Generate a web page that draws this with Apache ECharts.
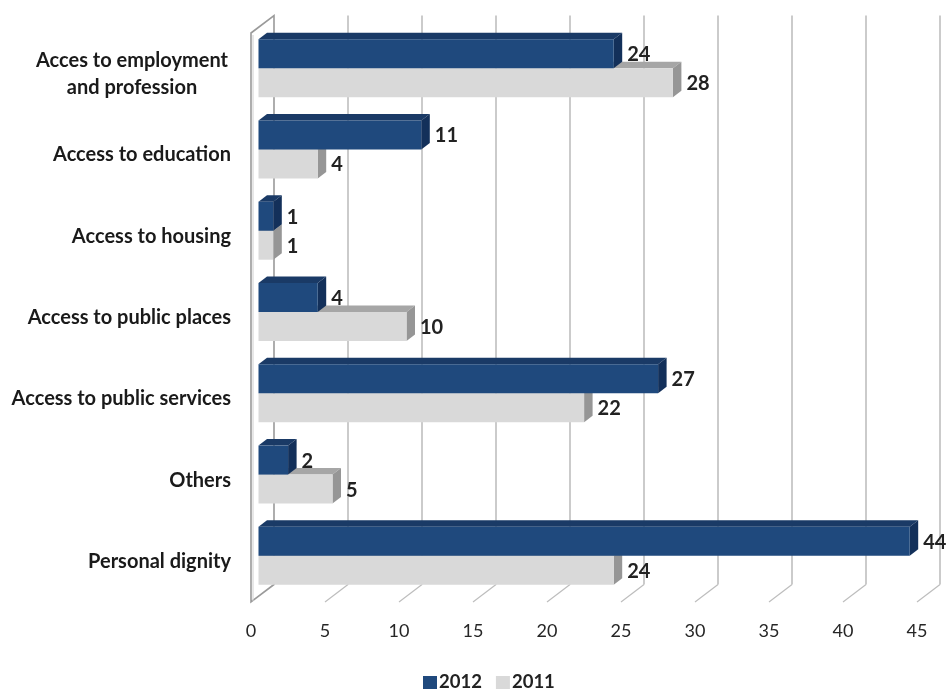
<!DOCTYPE html>
<html>
<head>
<meta charset="utf-8">
<script src="https://cdn.jsdelivr.net/npm/echarts@6/dist/echarts.min.js"></script>
<style>
  html, body { margin: 0; padding: 0; background: #fff; }
  #chart { width: 948px; height: 692px; }
</style>
</head>
<body>
<div id="chart"></div>
<script>
// Complaints by field, 2012 vs 2011
const categories = [
  'Acces to employment\nand profession',
  'Access to education',
  'Access to housing',
  'Access to public places',
  'Access to public services',
  'Others',
  'Personal dignity'
];
const values2012 = [24, 11, 1, 4, 27, 2, 44];
const values2011 = [28, 4, 1, 10, 22, 5, 24];
const xTicks = [0, 5, 10, 15, 20, 25, 30, 35, 40, 45];

// pseudo-3D geometry (pixels)
const WALL_DX = 23, WALL_DY = -17.5;   // depth of the chart box
const BAR_DX0 = 7.5, BAR_DY0 = -5.5;   // bars sit a third of the way into the box
const BAR_DX = 8.5, BAR_DY = -6.5;     // depth of a single bar
const BAR_H = 29;

const FONT = 'Lato, "Open Sans", sans-serif';

const chart = echarts.init(document.getElementById('chart'), null, { renderer: 'canvas' });

function frameItem(params, api) {
  const cs = params.coordSys;
  const top = cs.y, bottom = cs.y + cs.height;
  const fx = api.coord([api.value(0), 0])[0];
  const isWall = api.value(0) === 0;
  const children = [];
  const grid = { stroke: '#cbcbcb', lineWidth: 2 };
  const floor = { stroke: '#bdbdbd', lineWidth: 1.2 };
  if (isWall) {
    // left wall: a thin panel
    children.push({
      type: 'polygon',
      shape: { points: [[fx, top], [fx + WALL_DX, top + WALL_DY], [fx + WALL_DX, bottom + WALL_DY], [fx, bottom]] },
      style: { fill: '#ffffff', stroke: '#9a9a9a', lineWidth: 1.6 }
    });
    children.push({
      type: 'line',
      shape: { x1: fx + 2, y1: top + 2, x2: fx + 2, y2: bottom - 1 },
      style: { stroke: '#d0d0d0', lineWidth: 1 }
    });
  } else {
    children.push({
      type: 'line',
      shape: { x1: fx + WALL_DX, y1: top + WALL_DY, x2: fx + WALL_DX, y2: bottom + WALL_DY },
      style: grid
    });
    children.push({
      type: 'line',
      shape: { x1: fx, y1: bottom, x2: fx + WALL_DX, y2: bottom + WALL_DY },
      style: floor
    });
  }
  return { type: 'group', children: children };
}

function makeBarRenderer(colors, below) {
  return function (params, api) {
    const v = api.value(0);
    const idx = api.value(1);
    const c = api.coord([0, idx]);
    const x0 = c[0] + BAR_DX0;
    const x1 = api.coord([v, idx])[0] + BAR_DX0;
    const mid = c[1] + BAR_DY0;
    const y0 = below ? mid : mid - BAR_H;
    const y1 = below ? mid + BAR_H : mid;
    return {
      type: 'group',
      children: [
        { type: 'polygon',
          shape: { points: [[x0, y0], [x0 + BAR_DX, y0 + BAR_DY], [x1 + BAR_DX, y0 + BAR_DY], [x1, y0]] },
          style: { fill: colors.top } },
        { type: 'polygon',
          shape: { points: [[x1, y0], [x1 + BAR_DX, y0 + BAR_DY], [x1 + BAR_DX, y1 + BAR_DY], [x1, y1]] },
          style: { fill: colors.side } },
        { type: 'rect',
          shape: { x: x0, y: y0, width: x1 - x0, height: y1 - y0 },
          style: { fill: colors.front } },
        { type: 'text',
          style: {
            text: String(v), x: x1 + BAR_DX + 5, y: (y0 + y1) / 2 + 1,
            fill: '#222222', font: 'bold 20px ' + FONT,
            align: 'left', verticalAlign: 'middle'
          } }
      ]
    };
  };
}

const dark = { front: '#1f497d', top: '#1a3a66', side: '#13305a' };
const light = { front: '#d9d9d9', top: '#a6a6a6', side: '#969696' };

chart.setOption({
  animation: false,
  backgroundColor: '#ffffff',
  grid: { left: 251, right: 31, top: 33, bottom: 90, containLabel: false },
  xAxis: {
    type: 'value', min: 0, max: 45, interval: 5,
    axisLine: { show: false }, axisTick: { show: false }, splitLine: { show: false },
    axisLabel: {
      margin: 20, color: '#262626', fontFamily: FONT, fontSize: 18,
      formatter: function (v) { return xTicks.indexOf(v) >= 0 ? String(v) : ''; }
    }
  },
  yAxis: {
    type: 'category', data: categories, inverse: true,
    axisLine: { show: false }, axisTick: { show: false }, splitLine: { show: false },
    axisLabel: {
      margin: 20, color: '#1a1a1a', fontFamily: FONT, fontSize: 20, fontWeight: 'bold',
      lineHeight: 27, align: 'right',
      formatter: function (v) {
        if (v.indexOf('\n') >= 0) {
          return v.split('\n').map(function (s) { return '{c|' + s + '}'; }).join('\n');
        }
        return v;
      },
      rich: {
        c: { width: 198, align: 'center', fontFamily: FONT, fontSize: 20, fontWeight: 'bold', color: '#1a1a1a', lineHeight: 27 }
      }
    }
  },
  legend: {
    data: ['2012', '2011'], top: 673, left: 423, padding: 0,
    icon: 'rect', itemWidth: 14, itemHeight: 13, itemGap: 14,
    textStyle: { fontFamily: FONT, fontSize: 18.5, fontWeight: 'bold', color: '#222222', padding: [0, 0, 0, -3] }
  },
  series: [
    {
      name: 'frame', type: 'custom', silent: true, z: 1,
      data: xTicks.map(function (t) { return [t, 0]; }),
      renderItem: frameItem
    },
    {
      name: '2011', type: 'custom', z: 2,
      itemStyle: { color: light.front },
      encode: { x: 0, y: 1 },
      data: values2011.map(function (v, i) { return [v, i]; }),
      renderItem: makeBarRenderer(light, true)
    },
    {
      name: '2012', type: 'custom', z: 3,
      itemStyle: { color: dark.front },
      encode: { x: 0, y: 1 },
      data: values2012.map(function (v, i) { return [v, i]; }),
      renderItem: makeBarRenderer(dark, false)
    }
  ]
});
</script>
</body>
</html>
